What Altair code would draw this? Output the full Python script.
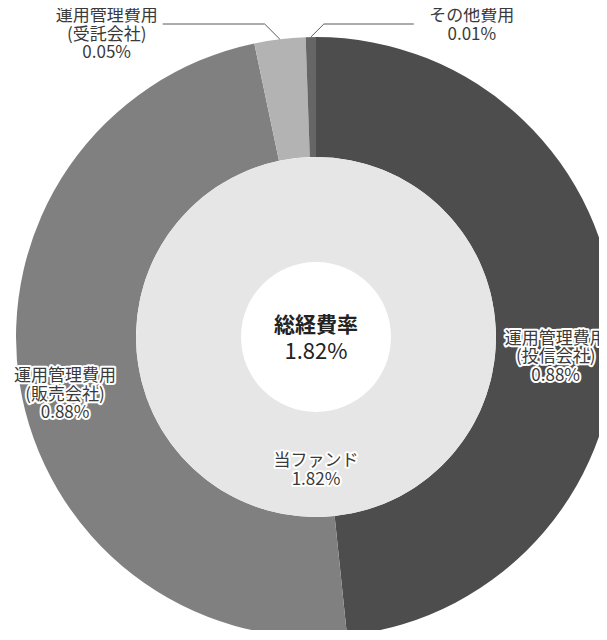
import altair as alt
import numpy as np
import pandas as pd

# ---- data ----
categories = ["運用管理費用\n(投信会社)", "運用管理費用\n(販売会社)", "運用管理費用\n(受託会社)", "その他費用"]
values = [0.88, 0.88, 0.05, 0.01]
slice_colors = ["#4d4d4d", "#808080", "#b3b3b3", "#666666"]
label_side = ["inner_r", "inner_l", "out_l", "out_r"]
fund_name = "当ファンド"
fund_value = 1.82
center_title = "総経費率"
center_value = 1.82

# ---- layout / style ----
FONT = "Noto Sans CJK JP"
W, H = 591, 622
CX, CY = 308, 329
R_OUT, R_MID, R_IN = 300, 180, 75
TXT = "#3a3a3a"
FS, LH = 17, 18.5

labels = [f"{c}\n{v:.2f}%" for c, v in zip(categories, values)]
df = pd.DataFrame({
    "cat": categories,
    "value": values,
    "idx": list(range(len(values))),
    "lab_r": [l if s == "inner_r" else "" for l, s in zip(labels, label_side)],
    "lab_l": [l if s == "inner_l" else "" for l, s in zip(labels, label_side)],
})

theta_enc = alt.Theta("value:Q", stack=True)
order_enc = alt.Order("idx:Q", sort="ascending")

arc_outer = alt.Chart(df).mark_arc(radius=R_OUT, radius2=R_MID).encode(
    theta=theta_enc,
    order=order_enc,
    color=alt.Color("cat:N", scale=alt.Scale(domain=categories, range=slice_colors), legend=None),
    x=alt.value(CX),
    y=alt.value(CY),
)

arc_inner = alt.Chart(pd.DataFrame({"name": [fund_name], "v": [fund_value]})).mark_arc(
    theta=0, theta2=2 * np.pi, radius=R_MID, radius2=R_IN, color="#e6e6e6"
).encode(x=alt.value(CX), y=alt.value(CY))


def inner_text(field, r, dy, halo):
    props = dict(radius=r, dy=dy, lineBreak="\n", font=FONT, fontSize=FS, lineHeight=LH,
                 align="center", baseline="middle")
    if halo:
        props.update(color="white", stroke="white", strokeWidth=4, strokeJoin="round")
    else:
        props.update(color=TXT)
    return alt.Chart(df).mark_text(**props).encode(
        theta=theta_enc, order=order_enc, text=alt.Text(f"{field}:N"),
        x=alt.value(CX), y=alt.value(CY),
    )


# fund label in inner ring
fund_df = pd.DataFrame({"t": [f"{fund_name}\n{fund_value:.2f}%"]})


def fund_text(halo):
    props = dict(lineBreak="\n", font=FONT, fontSize=FS, lineHeight=LH, align="center",
                 baseline="middle", dy=124)
    if halo:
        props.update(color="white", stroke="white", strokeWidth=4, strokeJoin="round")
    else:
        props.update(color=TXT)
    return alt.Chart(fund_df).mark_text(**props).encode(
        text="t:N", x=alt.value(CX), y=alt.value(CY))


center_df = pd.DataFrame({"title": [center_title], "val": [f"{center_value:.2f}%"]})
center_title_txt = alt.Chart(center_df).mark_text(
    font=FONT, fontSize=21, fontWeight="bold", color="#222", align="center", baseline="middle", dy=-11
).encode(text="title:N", x=alt.value(CX), y=alt.value(CY))
center_val_txt = alt.Chart(center_df).mark_text(
    font=FONT, fontSize=22, color="#222", align="center", baseline="middle", dy=15
).encode(text="val:N", x=alt.value(CX), y=alt.value(CY))

# leader lines + outside labels for small slices
total = float(np.sum(values))
cum = np.cumsum(values)
line_rows, lab_rows = [], []
elbow_y = CY - R_OUT - 13
for i, s in enumerate(label_side):
    if not s.startswith("out"):
        continue
    a = (cum[i] - values[i] / 2) / total * 2 * np.pi
    px, py = CX + R_OUT * np.sin(a), CY - R_OUT * np.cos(a)
    side = -1 if s == "out_l" else 1
    ex = px + side * (py - elbow_y)
    hl = 102 if side < 0 else 90
    endx = ex + side * hl
    for k, (xx, yy) in enumerate([(px, py), (ex, elbow_y), (endx, elbow_y)]):
        line_rows.append({"g": i, "k": k, "x": xx, "y": yy})
    lab_rows.append({"x": ex + (-158 if side < 0 else 148), "y": elbow_y - 16, "t": labels[i]})

lines_df = pd.DataFrame(line_rows)
olab_df = pd.DataFrame(lab_rows)

leaders = alt.Chart(lines_df).mark_line(color="#595959", strokeWidth=1).encode(
    x=alt.X("x:Q", scale=None, axis=None),
    y=alt.Y("y:Q", scale=None, axis=None),
    detail="g:N",
    order="k:Q",
)
out_labels = alt.Chart(olab_df).mark_text(
    font=FONT, fontSize=FS, lineHeight=LH, lineBreak="\n", color=TXT, align="center", baseline="top"
).encode(
    x=alt.X("x:Q", scale=None, axis=None),
    y=alt.Y("y:Q", scale=None, axis=None),
    text="t:N",
)

chart = alt.layer(
    arc_outer,
    arc_inner,
    inner_text("lab_r", 240, 14, True),
    inner_text("lab_r", 240, 14, False),
    inner_text("lab_l", 254, 0, True),
    inner_text("lab_l", 254, 0, False),
    fund_text(True),
    fund_text(False),
    center_title_txt,
    center_val_txt,
    leaders,
    out_labels,
).properties(
    width=W, height=H, autosize=alt.AutoSizeParams(type="none"), padding=0
).configure_view(stroke=None)

chart.save("out.html", embed_options={"renderer": "svg", "actions": False})
